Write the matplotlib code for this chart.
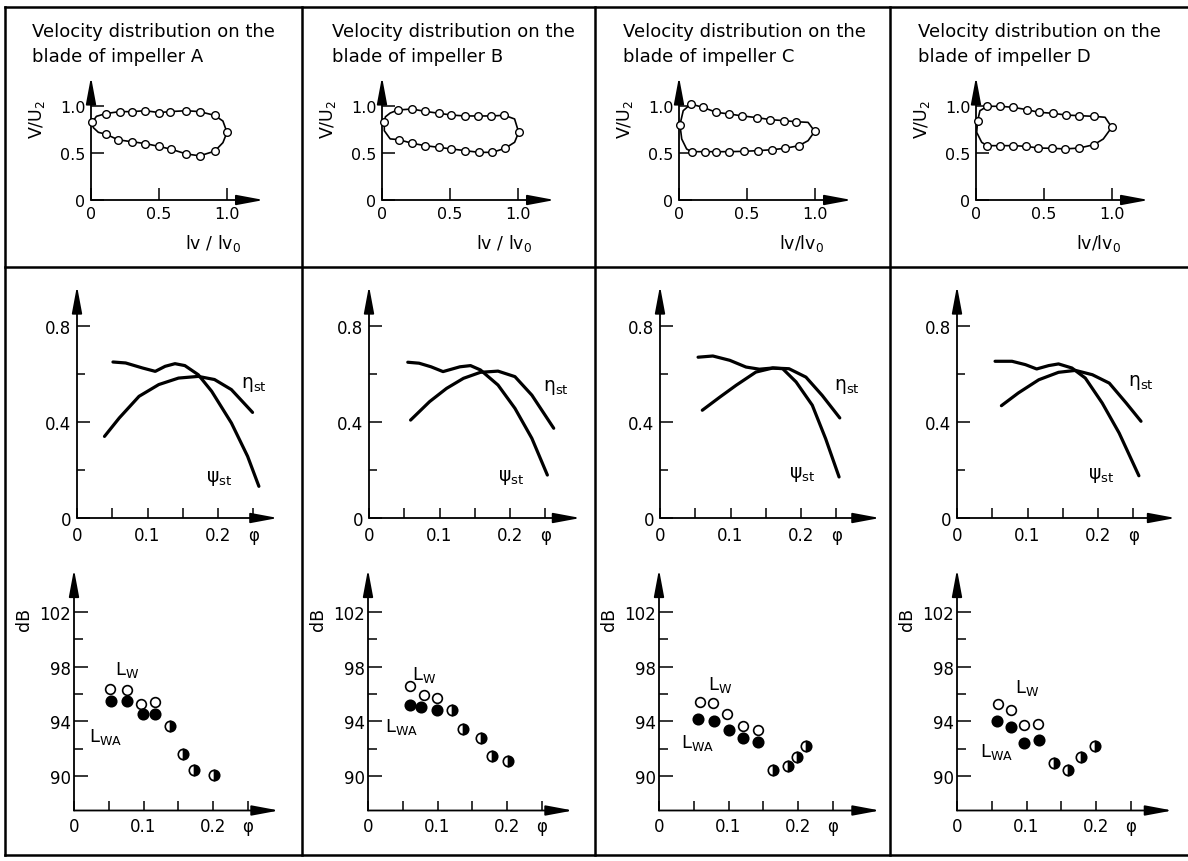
import matplotlib
matplotlib.use("Agg")
import matplotlib.pyplot as plt
from matplotlib.lines import Line2D

plt.rcParams["font.family"] = ["DejaVu Sans"]
plt.rcParams["mathtext.default"] = "regular"

impellers = ["A", "B", "C", "D"]

# ---- top row: velocity distribution on the blade, V/U2 over lv/lv0
upper_x = [
    [0.11, 0.21, 0.30, 0.40, 0.50, 0.58, 0.70, 0.80, 0.91],
    [0.115, 0.218, 0.318, 0.419, 0.511, 0.607, 0.704, 0.804, 0.90],
    [0.087, 0.176, 0.273, 0.37, 0.466, 0.575, 0.672, 0.773, 0.857],
    [0.083, 0.176, 0.274, 0.373, 0.463, 0.569, 0.659, 0.76, 0.868],
]
upper_y = [
    [0.92, 0.94, 0.94, 0.95, 0.93, 0.94, 0.95, 0.94, 0.90],
    [0.957, 0.968, 0.943, 0.922, 0.904, 0.894, 0.894, 0.894, 0.901],
    [1.021, 0.986, 0.933, 0.915, 0.894, 0.876, 0.855, 0.844, 0.833],
    [0.997, 0.997, 0.986, 0.961, 0.933, 0.922, 0.904, 0.897, 0.89],
]
lower_x = [
    [0.11, 0.20, 0.30, 0.40, 0.50, 0.59, 0.70, 0.80, 0.91],
    [0.123, 0.223, 0.318, 0.419, 0.511, 0.612, 0.712, 0.812, 0.905],
    [0.092, 0.188, 0.273, 0.37, 0.478, 0.582, 0.683, 0.78, 0.882],
    [0.083, 0.176, 0.274, 0.368, 0.458, 0.556, 0.654, 0.76, 0.868],
]
lower_y = [
    [0.70, 0.64, 0.62, 0.60, 0.57, 0.54, 0.49, 0.47, 0.52],
    [0.642, 0.603, 0.578, 0.56, 0.543, 0.525, 0.507, 0.507, 0.55],
    [0.514, 0.514, 0.514, 0.514, 0.518, 0.525, 0.535, 0.55, 0.578],
    [0.578, 0.578, 0.578, 0.571, 0.553, 0.55, 0.543, 0.553, 0.589],
]
lead_x = [0.01, 0.017, 0.007, 0.012]
lead_y = [0.83, 0.833, 0.80, 0.844]
tail_x = [1.0, 1.005, 0.998, 0.998]
tail_y = [0.72, 0.72, 0.73, 0.773]
# outline points without circle, around leading / trailing edge
nose_up_x = [[0.04], [0.025, 0.06], [0.031], [0.029]]
nose_up_y = [[0.89], [0.885, 0.925], [0.95], [0.95]]
nose_lo_x = [[0.017, 0.054], [0.017, 0.06], [0.02, 0.056], [0.005, 0.042]]
nose_lo_y = [[0.77, 0.72], [0.737, 0.65], [0.649, 0.543], [0.72, 0.613]]
tail_up_x = [[0.97], [0.975], [0.949], [0.949]]
tail_up_y = [[0.84], [0.862], [0.826], [0.88]]
tail_lo_x = [[0.97], [0.975], [0.949], [0.936]]
tail_lo_y = [[0.61], [0.614], [0.631], [0.649]]

# ---- middle row: psi_st and eta_st over phi
psi_x = [
    [0.051, 0.069, 0.093, 0.111, 0.125, 0.139, 0.153, 0.172, 0.191, 0.219, 0.242, 0.258],
    [0.055, 0.071, 0.088, 0.105, 0.129, 0.144, 0.158, 0.183, 0.207, 0.231, 0.253],
    [0.054, 0.075, 0.099, 0.122, 0.141, 0.16, 0.174, 0.193, 0.216, 0.235, 0.254],
    [0.054, 0.078, 0.097, 0.113, 0.13, 0.144, 0.163, 0.182, 0.206, 0.23, 0.258],
]
psi_y = [
    [0.65, 0.646, 0.625, 0.611, 0.632, 0.643, 0.635, 0.597, 0.528, 0.396, 0.257, 0.132],
    [0.649, 0.645, 0.63, 0.61, 0.63, 0.635, 0.617, 0.554, 0.457, 0.332, 0.179],
    [0.67, 0.675, 0.657, 0.629, 0.62, 0.625, 0.622, 0.567, 0.47, 0.33, 0.171],
    [0.653, 0.653, 0.639, 0.621, 0.635, 0.642, 0.625, 0.583, 0.479, 0.354, 0.176],
]
eta_x = [
    [0.039, 0.060, 0.088, 0.116, 0.144, 0.172, 0.195, 0.219, 0.249],
    [0.059, 0.086, 0.110, 0.134, 0.158, 0.183, 0.207, 0.231, 0.262],
    [0.06, 0.085, 0.108, 0.136, 0.16, 0.183, 0.207, 0.23, 0.255],
    [0.063, 0.087, 0.116, 0.144, 0.168, 0.192, 0.216, 0.24, 0.261],
]
eta_y = [
    [0.34, 0.417, 0.507, 0.556, 0.583, 0.59, 0.577, 0.535, 0.44],
    [0.408, 0.485, 0.54, 0.582, 0.607, 0.612, 0.589, 0.512, 0.374],
    [0.449, 0.504, 0.553, 0.608, 0.625, 0.622, 0.587, 0.511, 0.417],
    [0.468, 0.521, 0.576, 0.607, 0.615, 0.597, 0.562, 0.479, 0.403],
]

# ---- bottom row: sound power L_W (open) and L_WA (filled) in dB over phi
lw_x = [
    [0.052, 0.076, 0.097, 0.116],
    [0.06, 0.08, 0.099],
    [0.059, 0.078, 0.098, 0.121, 0.143],
    [0.059, 0.077, 0.097, 0.117],
]
lw_y = [
    [96.4, 96.28, 95.3, 95.43],
    [96.59, 95.91, 95.71],
    [95.45, 95.36, 94.55, 93.7, 93.41],
    [95.26, 94.85, 93.75, 93.8],
]
lwa_x = [
    [0.053, 0.076, 0.099, 0.117, 0.138, 0.157, 0.173, 0.202],
    [0.06, 0.076, 0.099, 0.121, 0.137, 0.162, 0.179, 0.201],
    [0.056, 0.079, 0.1, 0.121, 0.142, 0.164, 0.185, 0.198, 0.211],
    [0.057, 0.077, 0.097, 0.118, 0.139, 0.16, 0.179, 0.199],
]
lwa_y = [
    [95.49, 95.49, 94.52, 94.57, 93.67, 91.62, 90.49, 90.1],
    [95.23, 95.06, 94.86, 94.82, 93.47, 92.8, 91.46, 91.12],
    [94.19, 94.01, 93.34, 92.77, 92.53, 90.47, 90.78, 91.44, 92.24],
    [94.04, 93.6, 92.4, 92.65, 90.98, 90.49, 91.4, 92.2],
]

# ---- layout (pixels from top-left of a 1188x862 image)
W, H = 1188, 862
title_x = [32, 332, 623, 918]
xlabel_top = ["lv / lv$_0$", "lv / lv$_0$", "lv/lv$_0$", "lv/lv$_0$"]
top_x0 = [91, 382, 679, 976]
mid_x0 = [77, 369, 660, 957]
mid_xmax = [0.285, 0.30, 0.312, 0.31]
bot_x0 = [74, 368, 659, 957]
bot_xmax = [0.295, 0.295, 0.318, 0.31]
eta_lbl = [(0.251, 0.56), (0.265, 0.547), (0.265, 0.553), (0.261, 0.57)]
psi_lbl = [(0.202, 0.17), (0.202, 0.172), (0.202, 0.185), (0.204, 0.18)]
lw_lbl = [(0.059, 97.8), (0.064, 97.5), (0.07, 96.74), (0.083, 96.5)]
lwa_lbl = [(0.022, 92.95), (0.024, 93.7), (0.031, 92.48), (0.033, 91.84)]
n_solid = [4, 3, 5, 4]

fig = plt.figure(figsize=(11.88, 8.62), dpi=100)


def make_axes(x0, y0, xs, ys, xmax, ymin, ymax):
    # x0, y0: pixel position of the origin, xs / ys: pixels per data unit
    ax = fig.add_axes([x0 / W, (H - y0) / H, xmax * xs / W, (ymax - ymin) * ys / H])
    ax.set_xlim(0, xmax)
    ax.set_ylim(ymin, ymax)
    ax.patch.set_visible(False)
    for s in ax.spines.values():
        s.set_visible(False)
    arrow = dict(arrowstyle="-|>,head_length=1.5,head_width=0.28", color="k",
                 lw=1.3, mutation_scale=11, shrinkA=0, shrinkB=0)
    ax.annotate("", xy=(1, 0), xytext=(0, 0), xycoords="axes fraction", arrowprops=arrow)
    ax.annotate("", xy=(0, 1), xytext=(0, 0), xycoords="axes fraction", arrowprops=arrow)
    return ax


for i, name in enumerate(impellers):
    fig.text(title_x[i] / W, 1 - 32 / H, "Velocity distribution on the", fontsize=13, va="center")
    fig.text(title_x[i] / W, 1 - 57 / H, "blade of impeller " + name, fontsize=13, va="center")

    # top: blade loading
    ax = make_axes(top_x0[i], 201, 136, 94, 1.27, 0, 1.31)
    ax.set_xticks([0, 0.5, 1.0], ["0", "0.5", "1.0"])
    ax.set_yticks([0, 0.5, 1.0], ["0", "0.5", "1.0"])
    ax.tick_params(direction="in", length=9, width=1.1, labelsize=11.5, pad=4)
    loop_x = ([lead_x[i]] + nose_up_x[i] + upper_x[i] + tail_up_x[i] + [tail_x[i]]
              + tail_lo_x[i] + lower_x[i][::-1] + nose_lo_x[i][::-1] + [lead_x[i]])
    loop_y = ([lead_y[i]] + nose_up_y[i] + upper_y[i] + tail_up_y[i] + [tail_y[i]]
              + tail_lo_y[i] + lower_y[i][::-1] + nose_lo_y[i][::-1] + [lead_y[i]])
    ax.plot(loop_x, loop_y, color="k", lw=1.2, clip_on=False)
    ax.plot(upper_x[i] + lower_x[i] + [lead_x[i], tail_x[i]],
            upper_y[i] + lower_y[i] + [lead_y[i], tail_y[i]],
            "o", mfc="white", mec="k", ms=5.5, mew=1.0, clip_on=False, zorder=3)
    ax.text(-0.4, 0.87, "V/U$_2$", rotation=90, fontsize=12.5, ha="center", va="center")
    ax.text(0.9, -0.45, xlabel_top[i], fontsize=12.5, ha="center", va="center")

    # middle: pressure coefficient and efficiency
    ax = make_axes(mid_x0[i], 519, 705, 240, mid_xmax[i], 0, 0.967)
    ax.set_xticks([0, 0.05, 0.1, 0.15, 0.2, 0.25], ["0", "", "0.1", "", "0.2", "φ"])
    ax.set_yticks([0, 0.4, 0.8], ["0", "0.4", "0.8"])
    ax.set_yticks([0.2, 0.6], minor=True)
    ax.tick_params(axis="x", direction="in", length=7, width=1.1, labelsize=12, pad=6)
    ax.tick_params(axis="y", direction="in", length=9, width=1.1, labelsize=12, pad=4)
    ax.tick_params(axis="y", which="minor", direction="in", length=6, width=1.1)
    ax.plot(psi_x[i], psi_y[i], color="k", lw=2.3, solid_capstyle="round")
    ax.plot(eta_x[i], eta_y[i], color="k", lw=2.3, solid_capstyle="round")
    ax.text(*eta_lbl[i], "η$_{st}$", fontsize=13.5, ha="center", va="center")
    ax.text(*psi_lbl[i], "ψ$_{st}$", fontsize=13.5, ha="center", va="center")

    # bottom: sound power level
    ax = make_axes(bot_x0[i], 811.5, 695, 13.7, bot_xmax[i], 87.5, 105.1)
    ax.set_xticks([0, 0.05, 0.1, 0.15, 0.2, 0.25], ["0", "", "0.1", "", "0.2", "φ"])
    ax.set_yticks([90, 94, 98, 102], ["90", "94", "98", "102"])
    ax.set_yticks([92, 96, 100], minor=True)
    ax.tick_params(axis="x", direction="in", length=7, width=1.1, labelsize=12, pad=4.5)
    ax.tick_params(axis="y", direction="in", length=10, width=1.1, labelsize=12, pad=2.5)
    ax.tick_params(axis="y", which="minor", direction="in", length=6.5, width=1.1)
    n = n_solid[i]
    ax.plot(lw_x[i], lw_y[i], "o", mfc="white", mec="k", ms=7, mew=1.2)
    ax.plot(lwa_x[i][:n], lwa_y[i][:n], "o", mfc="k", mec="k", ms=7.5, mew=1.2)
    ax.plot(lwa_x[i][n:], lwa_y[i][n:], "o", fillstyle="right", mfc="k",
            markerfacecoloralt="white", mec="k", ms=7.5, mew=1.2)
    ax.text(lw_lbl[i][0], lw_lbl[i][1], "L$_W$", fontsize=13, va="center")
    ax.text(lwa_lbl[i][0], lwa_lbl[i][1], "L$_{WA}$", fontsize=13, va="center")
    ax.text(-0.072, 101.5, "dB", rotation=90, fontsize=12.5, ha="center", va="center")

# frame of the figure
frame = [((5, 8), (5, 856)), ((5, 8), (1188, 8)), ((5, 856), (1188, 856)),
         ((5, 268), (1188, 268)), ((302, 8), (302, 856)), ((595, 8), (595, 856)),
         ((890, 8), (890, 856))]
for (xa, ya), (xb, yb) in frame:
    fig.add_artist(Line2D([xa / W, xb / W], [1 - ya / H, 1 - yb / H],
                          transform=fig.transFigure, color="k", lw=1.8))

fig.savefig("out.png", dpi=100)
